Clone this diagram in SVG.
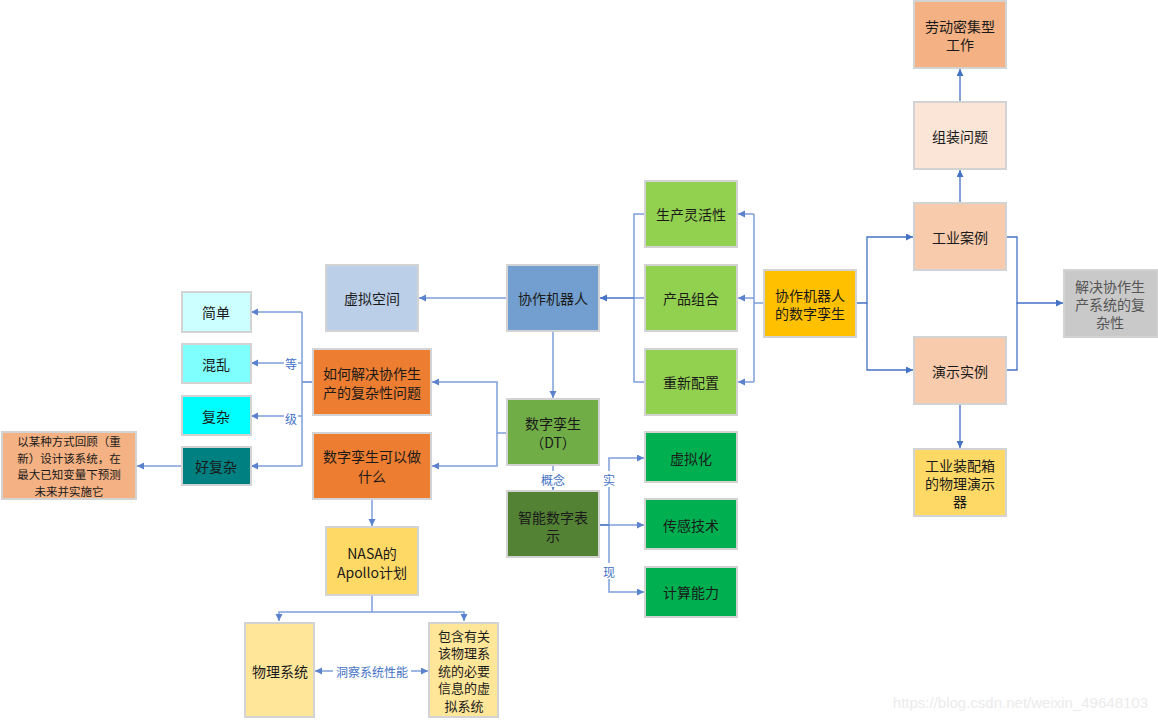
<svg xmlns="http://www.w3.org/2000/svg" width="1158" height="720" viewBox="0 0 1158 720">
<defs>
<marker id="ad" markerUnits="userSpaceOnUse" markerWidth="8" markerHeight="8" refX="7" refY="3.5" orient="auto-start-reverse"><path d="M0,0 L7,3.5 L0,7 z" fill="#4472C4"/></marker>
<marker id="al" markerUnits="userSpaceOnUse" markerWidth="8" markerHeight="8" refX="7" refY="3.5" orient="auto-start-reverse"><path d="M0,0 L7,3.5 L0,7 z" fill="#5B82CC"/></marker>
<style>
rect.n{stroke:#D3D3D3;stroke-width:2}
text{font-family:"Noto Sans CJK SC","Noto Sans",sans-serif;font-size:14px;fill:#1a1a1a;text-anchor:middle;dominant-baseline:central}
.dk{fill:none;stroke:#4472C4;stroke-width:1.3}
.lt{fill:none;stroke:#7E9EDA;stroke-width:1.5}
.lb{font-size:12px;fill:#4472C4}
.sm{font-size:11.5px}
.md{font-size:13px}
.gr{fill:#555555}
.wm{font-family:"Liberation Sans",Arial,sans-serif;font-size:15px;fill:#EBEBEB;text-anchor:end}
</style>
</defs>
<rect width="1158" height="720" fill="#FFFFFF"/>

<g id="connectors">
<path class="dk" d="M960,202 V170" marker-end="url(#ad)"/>
<path class="dk" d="M960,102 V69" marker-end="url(#ad)"/>
<path class="dk" d="M856,303 H867 V237 H913" marker-end="url(#ad)"/>
<path class="dk" d="M867,303 V370 H913" marker-end="url(#ad)"/>
<path class="dk" d="M1006,237 H1017 V303 H1063" marker-end="url(#ad)"/>
<path class="dk" d="M1006,370 H1017 V303"/>
<path class="dk" d="M960,404 V448" marker-end="url(#ad)"/>

<path class="lt" d="M764,303 H754"/>
<path class="lt" d="M754,214 V382"/>
<path class="lt" d="M754,214 H738" marker-end="url(#al)"/>
<path class="lt" d="M754,298 H738" marker-end="url(#al)"/>
<path class="lt" d="M754,382 H738" marker-end="url(#al)"/>
<path class="lt" d="M645,214 H634 V382 H645"/>
<path class="lt" d="M645,298 H634"/>
<path class="dk" d="M634,298 H600" stroke-width="2" marker-end="url(#ad)"/>
<path class="lt" d="M507,298 H419" marker-end="url(#al)"/>
<path class="lt" d="M553,332 V398" marker-end="url(#al)"/>
<path class="lt" d="M507,433 H497 V382 H432" marker-end="url(#al)"/>
<path class="lt" d="M497,433 V466 H432" marker-end="url(#al)"/>
<path class="lt" d="M553,465 V490" marker-end="url(#al)"/>
<path class="lt" d="M599,525 H644" marker-end="url(#al)"/>
<path class="lt" d="M609,525 V458 H644" marker-end="url(#al)"/>
<path class="lt" d="M609,525 V592 H644" marker-end="url(#al)"/>
<path class="dk" d="M599,525 H609" stroke-width="2"/>
<path class="dk" d="M313,382 H302" stroke-width="2"/>
<path class="lt" d="M302,312 V466"/>
<path class="lt" d="M302,312 H251" marker-end="url(#al)"/>
<path class="lt" d="M302,363 H251" marker-end="url(#al)"/>
<path class="lt" d="M302,416 H251" marker-end="url(#al)"/>
<path class="lt" d="M302,466 H251" marker-end="url(#al)"/>
<path class="lt" d="M182,466 H137" marker-end="url(#al)"/>
<path class="lt" d="M372,499 V526" marker-end="url(#al)"/>
<path class="lt" d="M372,595 V612 H279 V621" marker-end="url(#al)"/>
<path class="lt" d="M372,612 H464 V621" marker-end="url(#al)"/>
<path class="lt" d="M315,671 H428" marker-start="url(#al)" marker-end="url(#al)"/>

<rect x="284" y="355" width="14" height="16" fill="#FFFFFF"/>
<text class="lb" x="291" y="363">等</text>
<rect x="284" y="410" width="14" height="16" fill="#FFFFFF"/>
<text class="lb" x="291" y="418">级</text>
<rect x="539" y="471" width="28" height="16" fill="#FFFFFF"/>
<text class="lb" x="553" y="479">概念</text>
<rect x="602" y="471" width="14" height="16" fill="#FFFFFF"/>
<text class="lb" x="609" y="479">实</text>
<rect x="602" y="563" width="14" height="16" fill="#FFFFFF"/>
<text class="lb" x="609" y="571">现</text>
<rect x="333" y="663" width="78" height="16" fill="#FFFFFF"/>
<text class="lb" x="372" y="671" font-size="13px">洞察系统性能</text>
</g>

<g id="n-laodong"><rect class="n" x="914" y="1" width="92" height="67" fill="#F4B183"/><text x="960" y="26">劳动密集型</text><text x="960" y="44">工作</text></g>
<g id="n-zuzhuang"><rect class="n" x="914" y="102" width="92" height="67" fill="#FBE5D6"/><text x="960" y="136">组装问题</text></g>
<g id="n-gongye"><rect class="n" x="914" y="203" width="92" height="67" fill="#F8CBAD"/><text x="960" y="237">工业案例</text></g>
<g id="n-yanshi"><rect class="n" x="914" y="337" width="92" height="67" fill="#F8CBAD"/><text x="960" y="371">演示实例</text></g>
<g id="n-zhuangpei"><rect class="n" x="914" y="449" width="92" height="67" fill="#FFD966"/><text x="960" y="465">工业装配箱</text><text x="960" y="483">的物理演示</text><text x="960" y="501">器</text></g>
<g id="n-jiejue"><rect class="n" x="1064" y="270" width="94" height="67" fill="#C9C9C9"/><text class="gr" x="1110" y="286">解决协作生</text><text class="gr" x="1110" y="304">产系统的复</text><text class="gr" x="1110" y="322">杂性</text></g>
<g id="n-dt-robot"><rect class="n" x="764" y="270" width="92" height="67" fill="#FFC000"/><text x="810" y="295">协作机器人</text><text x="810" y="313">的数字孪生</text></g>
<g id="n-linghuo"><rect class="n" x="645" y="181" width="92" height="66" fill="#92D050"/><text x="691" y="214">生产灵活性</text></g>
<g id="n-chanpin"><rect class="n" x="645" y="265" width="92" height="66" fill="#92D050"/><text x="691" y="298">产品组合</text></g>
<g id="n-chongxin"><rect class="n" x="645" y="349" width="92" height="66" fill="#92D050"/><text x="691" y="382">重新配置</text></g>
<g id="n-robot"><rect class="n" x="507" y="265" width="92" height="66" fill="#729FCF"/><text x="553" y="298">协作机器人</text></g>
<g id="n-xuni"><rect class="n" x="326" y="265" width="92" height="66" fill="#BCCFE9"/><text x="372" y="298">虚拟空间</text></g>
<g id="n-dt"><rect class="n" x="507" y="399" width="92" height="66" fill="#70AD47"/><text x="553" y="423">数字孪生</text><text x="553" y="442">（DT）</text></g>
<g id="n-zhineng"><rect class="n" x="507" y="491" width="92" height="66" fill="#548235"/><text x="553" y="517">智能数字表</text><text x="553" y="535">示</text></g>
<g id="n-xunihua"><rect class="n" x="645" y="432" width="92" height="50" fill="#00B050"/><text x="691" y="458">虚拟化</text></g>
<g id="n-chuangan"><rect class="n" x="645" y="499" width="92" height="50" fill="#00B050"/><text x="691" y="525">传感技术</text></g>
<g id="n-jisuan"><rect class="n" x="645" y="567" width="92" height="50" fill="#00B050"/><text x="691" y="592">计算能力</text></g>
<g id="n-ruhe"><rect class="n" x="313" y="349" width="118" height="66" fill="#ED7D31"/><text x="372" y="373">如何解决协作生</text><text x="372" y="392">产的复杂性问题</text></g>
<g id="n-keyi"><rect class="n" x="313" y="433" width="118" height="66" fill="#ED7D31"/><text x="372" y="456">数字孪生可以做</text><text x="372" y="476">什么</text></g>
<g id="n-nasa"><rect class="n" x="326" y="527" width="92" height="68" fill="#FFD966"/><text x="372" y="553">NASA的</text><text x="372" y="572">Apollo计划</text></g>
<g id="n-wuli"><rect class="n" x="245" y="623" width="69" height="94" fill="#FFE699"/><text x="280" y="671">物理系统</text></g>
<g id="n-baohan"><rect class="n" x="429" y="623" width="69" height="94" fill="#FFE699"/><text class="md" x="464" y="635">包含有关</text><text class="md" x="464" y="652.5">该物理系</text><text class="md" x="464" y="670">统的必要</text><text class="md" x="464" y="687.5">信息的虚</text><text class="md" x="464" y="705">拟系统</text></g>
<g id="n-jiandan"><rect class="n" x="182" y="292" width="69" height="40" fill="#CCFFFF"/><text x="216" y="312">简单</text></g>
<g id="n-hunluan"><rect class="n" x="182" y="344" width="69" height="39" fill="#80FFFF"/><text x="216" y="364">混乱</text></g>
<g id="n-fuza"><rect class="n" x="182" y="396" width="69" height="39" fill="#00FFFF"/><text x="216" y="416">复杂</text></g>
<g id="n-haofuza"><rect class="n" x="182" y="447" width="69" height="38" fill="#008080"/><text x="216" y="466">好复杂</text></g>
<g id="n-yimouzhong"><rect class="n" x="2" y="432" width="134" height="67" fill="#F4B183"/><text class="sm" x="69" y="441">以某种方式回顾（重</text><text class="sm" x="69" y="457.7">新）设计该系统，在</text><text class="sm" x="69" y="474.4">最大已知变量下预测</text><text class="sm" x="69" y="491.1">未来并实施它</text></g>

<text class="wm" x="1148" y="702">https://blog.csdn.net/weixin_49648103</text>
</svg>
